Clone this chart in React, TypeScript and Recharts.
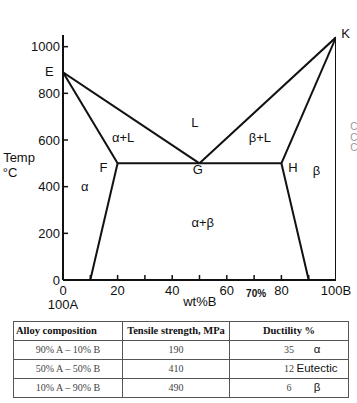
import { LineChart, Line, XAxis, YAxis, ReferenceDot } from "recharts";

// phase boundaries, x = wt%B, t = temperature °C
const liquidusA = [{ x: 0, t: 890 }, { x: 50, t: 500 }];
const liquidusB = [{ x: 50, t: 500 }, { x: 100, t: 1040 }];
const solidusA = [{ x: 0, t: 890 }, { x: 20, t: 500 }];
const solvusA = [{ x: 20, t: 500 }, { x: 10, t: 0 }];
const eutectic = [{ x: 20, t: 500 }, { x: 80, t: 500 }];
const solidusB = [{ x: 80, t: 500 }, { x: 100, t: 1040 }];
const solvusB = [{ x: 80, t: 500 }, { x: 90, t: 0 }];
const pureB = [{ x: 100, t: 0 }, { x: 100, t: 1040 }];

const boundaries = [liquidusA, liquidusB, solidusA, solvusA, eutectic, solidusB, solvusB, pureB];

const xTicks = [0, 10, 20, 30, 40, 50, 60, 70, 80, 90, 100];
const yTicks = [0, 200, 400, 600, 800, 1000];

const regionLabels = [
  { x: -5, t: 896, text: "E" },
  { x: 103.5, t: 1059, text: "K" },
  { x: 22, t: 613, text: "α+L" },
  { x: 48.3, t: 677, text: "L" },
  { x: 72.1, t: 613, text: "β+L" },
  { x: 14.8, t: 484, text: "F" },
  { x: 49.4, t: 476, text: "G" },
  { x: 84.2, t: 484, text: "H" },
  { x: 92.9, t: 471, text: "β" },
  { x: 8, t: 403, text: "α" },
  { x: 51.2, t: 249, text: "α+β" },
];

const axisNotes = [
  { x: -16.1, t: 527, text: "Temp" },
  { x: -19.4, t: 463, text: "°C" },
  { x: 50.1, t: -90, text: "wt%B" },
];

const strayMarks = [660, 613, 566];

const alloys = ["90% A – 10% B", "50% A – 50% B", "10% A – 90% B"];
const tensile = [190, 410, 490];
const ductility = [35, 12, 6];
const phaseNotes = ["α", "Eutectic", "β"];

const sans = '"Liberation Sans", Arial, sans-serif';
const serif = '"Liberation Serif", "Times New Roman", serif';

const YTick = (props: any) => {
  const { x, y, payload } = props;
  return (
    <g>
      {payload.value > 0 && (
        <line x1={x} x2={x + 5} y1={y} y2={y} stroke="#111" strokeWidth={1.5} />
      )}
      <text x={x - 3} y={y} textAnchor="end" dominantBaseline="central" fontSize={13} fontFamily={sans} fill="#111">
        {payload.value}
      </text>
    </g>
  );
};

const XTick = (props: any) => {
  const { x, y, payload } = props;
  const v = payload.value;
  const inner = v > 0 && v < 100;
  const label = v % 20 === 0 ? (v === 100 ? "100B" : String(v)) : null;
  return (
    <g>
      {inner && <line x1={x} x2={x} y1={y} y2={y - 5} stroke="#111" strokeWidth={1.5} />}
      {label && (
        <text x={x} y={y + 10} textAnchor="middle" dominantBaseline="central" fontSize={13} fontFamily={sans} fill="#111">
          {label}
        </text>
      )}
      {v === 0 && (
        <text x={x} y={y + 24} textAnchor="middle" dominantBaseline="central" fontSize={13} fontFamily={sans} fill="#111">
          100A
        </text>
      )}
      {v === 70 && (
        <text x={x + 2} y={y + 13} textAnchor="middle" dominantBaseline="central" fontSize={10} fontWeight="bold" fontFamily={sans} fill="#111">
          70%
        </text>
      )}
    </g>
  );
};

const cell = {
  border: "1px solid #555",
  padding: 0,
  height: 18,
  lineHeight: "1",
  textAlign: "center" as const,
  fontSize: 10,
  color: "#444",
};

export default function App() {
  return (
    <div style={{ position: "absolute", left: 0, top: 0, width: 357, height: 403, background: "#fff", overflow: "hidden" }}>
      <LineChart width={357} height={310} margin={{ top: 35, right: 21, bottom: 10, left: 33 }}>
        <XAxis
          type="number"
          dataKey="x"
          domain={[0, 100]}
          ticks={xTicks}
          interval={0}
          height={20}
          tickSize={0}
          tickMargin={0}
          tick={<XTick />}
          axisLine={{ stroke: "#111", strokeWidth: 2 }}
          allowDataOverflow
        />
        <YAxis
          type="number"
          domain={[0, 1050]}
          ticks={yTicks}
          interval={0}
          width={30}
          tickSize={0}
          tickMargin={0}
          tick={<YTick />}
          axisLine={{ stroke: "#111", strokeWidth: 2 }}
          allowDataOverflow
        />
        {boundaries.map((seg, i) => (
          <Line
            key={i}
            data={seg}
            dataKey="t"
            stroke="#111"
            strokeWidth={2}
            dot={false}
            isAnimationActive={false}
          />
        ))}
        {regionLabels.map((l) => (
          <ReferenceDot
            key={l.text}
            x={l.x}
            y={l.t}
            r={0}
            ifOverflow="visible"
            label={{ value: l.text, position: "center", fontSize: 13, fontFamily: sans, fill: "#111" }}
          />
        ))}
        {axisNotes.map((l) => (
          <ReferenceDot
            key={l.text}
            x={l.x}
            y={l.t}
            r={0}
            ifOverflow="visible"
            label={{ value: l.text, position: "center", fontSize: 13, fontFamily: sans, fill: "#111" }}
          />
        ))}
        {strayMarks.map((t, i) => (
          <ReferenceDot
            key={"c" + i}
            x={106.5}
            y={t}
            r={0}
            ifOverflow="visible"
            label={{ value: "C", position: "center", fontSize: 10, fontFamily: sans, fill: "#999" }}
          />
        ))}
      </LineChart>
      <table
        style={{
          position: "absolute",
          left: 13,
          top: 321,
          width: 335,
          borderCollapse: "collapse",
          tableLayout: "fixed",
          fontFamily: serif,
        }}
      >
        <colgroup>
          <col style={{ width: 109 }} />
          <col style={{ width: 107 }} />
          <col style={{ width: 119 }} />
        </colgroup>
        <tbody>
          <tr>
            <th style={{ ...cell, textAlign: "left", paddingLeft: 2, fontSize: 10.5, color: "#111" }}>Alloy composition</th>
            <th style={{ ...cell, fontSize: 10.5, color: "#111" }}>Tensile strength, MPa</th>
            <th style={{ ...cell, fontSize: 10.5, color: "#111" }}>Ductility %</th>
          </tr>
          {alloys.map((a, i) => (
            <tr key={a}>
              <td style={cell}>{a}</td>
              <td style={cell}>{tensile[i]}</td>
              <td style={{ ...cell, position: "relative" }}>
                {ductility[i]}
                <span
                  style={{
                    position: "absolute",
                    left: 66,
                    width: 42,
                    top: 0,
                    textAlign: "center",
                    fontFamily: sans,
                    fontSize: 11.5,
                    color: "#111",
                    lineHeight: "16px",
                  }}
                >
                  {phaseNotes[i]}
                </span>
              </td>
            </tr>
          ))}
        </tbody>
      </table>
    </div>
  );
}
